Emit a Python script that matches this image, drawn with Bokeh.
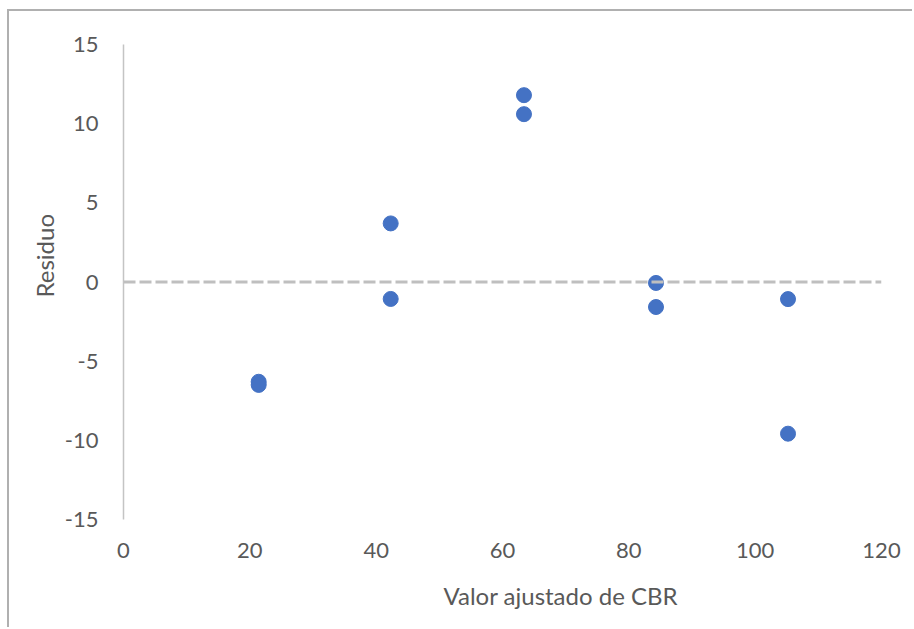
from bokeh.plotting import figure
from bokeh.models import Range1d, FixedTicker, Span, Title
from bokeh.embed import file_html
from bokeh.resources import INLINE

# Data
fitted_cbr = [21.4, 21.4, 42.3, 42.3, 63.4, 63.4, 84.3, 84.3, 105.2, 105.2]
residuals = [-6.3, -6.5, 3.7, -1.07, 11.8, 10.6, -0.06, -1.58, -1.08, -9.58]
x_ticks = [0, 20, 40, 60, 80, 100, 120]
y_ticks = [-15, -10, -5, 0, 5, 10, 15]
x_title = "Valor ajustado de CBR"
y_title = "Residuo"

FONT = "Lato"
TXT = "#595959"

p = figure(width=905, height=618, output_backend="svg", toolbar_location=None,
           x_range=Range1d(0, 120), y_range=Range1d(-15, 15),
           min_border_left=114, min_border_right=33, min_border_top=33,
           min_border_bottom=110)
p.styles = {"border-top": "2px solid #b0b0b0", "border-left": "2px solid #b0b0b0",
            "margin-top": "9px", "margin-left": "7px"}
p.outline_line_color = None
p.xgrid.visible = False
p.ygrid.visible = False
p.background_fill_color = "white"
p.border_fill_color = "white"

# axes
p.xaxis.ticker = FixedTicker(ticks=x_ticks)
p.yaxis.ticker = FixedTicker(ticks=y_ticks)
p.xaxis.major_label_overrides = {t: str(t) for t in x_ticks}
p.yaxis.major_label_overrides = {t: str(t) for t in y_ticks}
for ax in (p.xaxis, p.yaxis):
    ax.major_tick_line_color = None
    ax.minor_tick_line_color = None
    ax.major_label_text_font = FONT
    ax.major_label_text_font_size = "22px"
    ax.major_label_text_color = TXT
p.xaxis.axis_line_color = None
p.xaxis.major_label_standoff = 17
p.yaxis.axis_line_color = "#c4c4c4"
p.yaxis.axis_line_width = 1.5
p.yaxis.major_label_standoff = 19

# zero reference line
p.add_layout(Span(location=0, dimension="width", line_color="#bfbfbf",
                  line_width=3, line_dash="12 4"))

p.scatter(fitted_cbr, residuals, size=15, fill_color="#4472C4", line_color="#4472C4")

p.add_layout(Title(text=x_title, text_font=FONT, text_font_size="24px",
                   text_font_style="normal", text_color=TXT, align="left",
                   offset=320, standoff=37), "below")
p.add_layout(Title(text=y_title, text_font=FONT, text_font_size="24px",
                   text_font_style="normal", text_color=TXT, align="left",
                   offset=222, standoff=5), "left")

open("out.html", "w").write(file_html(p, INLINE))
